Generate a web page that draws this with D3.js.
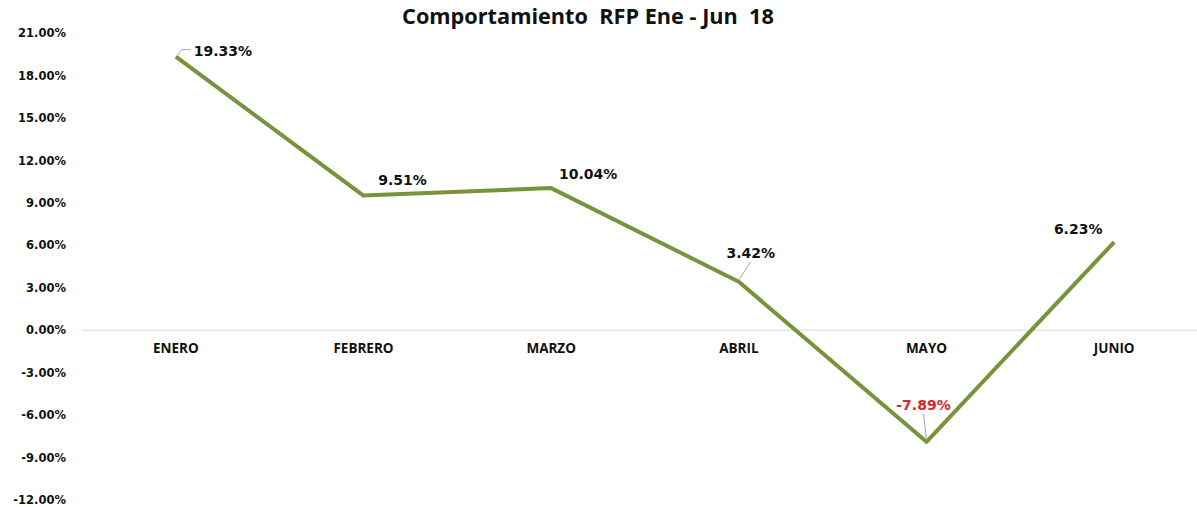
<!DOCTYPE html>
<html>
<head>
<meta charset="utf-8">
<script src="https://cdn.jsdelivr.net/npm/d3@7"></script>
<style>
  body { margin: 0; background: #fff; }
  .tick text { font-family: "DejaVu Sans", Verdana, sans-serif; font-weight: bold; }
</style>
</head>
<body>
<script>
// Chart data
let months = ["ENERO", "FEBRERO", "MARZO", "ABRIL", "MAYO", "JUNIO"];
let rfpValues = [19.33, 9.51, 10.04, 3.42, -7.89, 6.23];
let yTicks = [21, 18, 15, 12, 9, 6, 3, 0, -3, -6, -9, -12];

// label placement (offset from the point), like the hand-moved Excel labels
let labelDx = [47, 39, 37, 12, -3, -36];
let labelDy = [-6, -16, -14, -29, -37, -13];
let hasLeader = [true, false, false, true, true, false];

let svgWidth = 1197;
let svgHeight = 507;

let pct = d => d.toFixed(2) + "%";

let svg = d3.select("body")
  .append("svg")
  .attr("width", svgWidth)
  .attr("height", svgHeight);

// Scales
let xScale = d3.scaleBand()
  .domain(months)
  .range([82, 1208]);

let yScale = d3.scaleLinear()
  .domain([-12, 21])
  .range([500, 33]);

// Title
svg.append("text")
  .attr("x", 588)
  .attr("y", 24)
  .attr("text-anchor", "middle")
  .style("white-space", "pre")
  .style("font-family", "'Open Sans', sans-serif")
  .style("font-weight", "bold")
  .style("font-size", "21.7px")
  .attr("fill", "#111")
  .text("Comportamiento  RFP Ene - Jun  18");

// Y axis (labels only)
let leftAxis = d3.axisLeft(yScale)
  .tickValues(yTicks)
  .tickSize(0)
  .tickPadding(0)
  .tickFormat(pct);

svg.append("g")
  .attr("transform", "translate(66, 0)")
  .call(leftAxis)
  .call(g => g.select(".domain").remove())
  .selectAll("text")
  .attr("fill", "#111")
  .style("font-size", "11.5px");

// Zero line
svg.append("line")
  .attr("x1", 82)
  .attr("x2", svgWidth)
  .attr("y1", yScale(0))
  .attr("y2", yScale(0))
  .attr("stroke", "#d9d9d9")
  .attr("stroke-width", 1);

// Category labels just below the zero line
let bottomAxis = d3.axisBottom(xScale).tickSize(0).tickPadding(0);
svg.append("g")
  .attr("transform", `translate(0, ${yScale(0) + 13})`)
  .call(bottomAxis)
  .call(g => g.select(".domain").remove())
  .selectAll("text")
  .attr("fill", "#111")
  .style("font-family", "'Open Sans', sans-serif")
  .style("font-size", "13.5px");

let cx = i => xScale(months[i]) + xScale.bandwidth() / 2;

// Line
let line = d3.line()
  .x((d, i) => cx(i))
  .y(d => yScale(d));

svg.append("path")
  .datum(rfpValues)
  .attr("d", line)
  .attr("fill", "none")
  .attr("stroke", "#77933c")
  .attr("stroke-width", 4)
  .attr("stroke-linejoin", "round");

// Leader lines
rfpValues.forEach(function(v, i) {
  if (!hasLeader[i]) return;
  let px = cx(i), py = yScale(v);
  let lx = px + labelDx[i], ly = py + labelDy[i];
  let path;
  if (i === 0) {
    path = `M${px + 2},${py - 2} L${px + 6},${ly - 1} L${lx - 32},${ly - 1}`;
  } else {
    path = `M${px},${py - 2} L${lx},${ly + 9}`;
  }
  svg.append("path")
    .attr("d", path)
    .attr("fill", "none")
    .attr("stroke", "#a6a6a6")
    .attr("stroke-width", 1);
});

// Data labels
svg.selectAll(".dlabel")
  .data(rfpValues)
  .enter().append("text")
  .attr("class", "dlabel")
  .attr("x", (d, i) => cx(i) + labelDx[i])
  .attr("y", (d, i) => yScale(d) + labelDy[i] + 5)
  .attr("text-anchor", "middle")
  .style("font-family", "'DejaVu Sans', Verdana, sans-serif")
  .style("font-weight", "bold")
  .style("font-size", "14px")
  .attr("fill", d => d < 0 ? "#d9262b" : "#111")
  .text(pct);
</script>
</body>
</html>
